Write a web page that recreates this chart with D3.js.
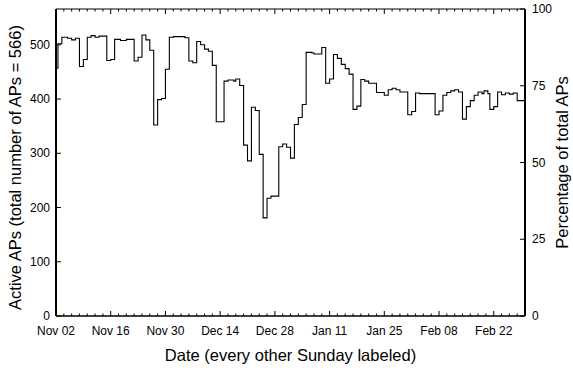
<!DOCTYPE html>
<html><head><meta charset="utf-8">
<script src="https://cdn.jsdelivr.net/npm/d3@7"></script>
<style>body{margin:0;background:#fff}svg{display:block}text{font-family:"Liberation Sans",Arial,Helvetica,sans-serif;fill:#000}</style>
</head><body><svg id="c" width="573" height="368"></svg>
<script>
// Step series: day offset from Nov 02 (start of each step) and number of active APs
const stepDay = [0,0.5,1.5,3,4,5,6,7,8,9,10,11,13,14,15,16.5,18,20,21,22,23,24,25,26,27,28,29,30,33,34,35,36,37,38,39,40,41,43,44,45.5,46,47,48,49,50,51,52,53,54,55,57,58,59,60,61,62,63,64,65.5,66,68,69,70,71,72,73,74,75,76,77,78,79,80,82,84,85,86,87,88,90,91,92,93,97,98,99,100,101,102,103,104,105,106,107,108,109,109.5,110.5,111,112,113,114,115,116,117,118];
const activeAPs = [457,502,514,512,509,512,460,473,514,517,514,516,471,473,510,508,510,470,477,518,509,490,352,399,401,455,514,515,513,470,467,506,500,492,488,462,358,433,435,433,437,425,315,286,385,379,298,181,217,221,312,317,311,291,353,366,390,486,485,483,495,429,437,482,475,464,456,446,381,387,436,433,429,412,407,417,420,417,413,371,377,411,410,371,378,407,412,415,417,413,363,386,397,407,413,410,415,410,381,386,413,408,411,409,411,397];
const endDay = 120;
const totalAPs = 566;
const startDate = new Date(2008, 10, 2);
const leftTicks = [0,100,200,300,400,500];
const rightTicks = [0,25,50,75,100];
const xTitle = "Date (every other Sunday labeled)";
const yTitle = "Active APs (total number of APs = 566)";
const y2Title = "Percentage of total APs";

const svg = d3.select("#c");
const m = {l:56, r:525, t:9, b:316};
const x = d3.scaleTime().domain([startDate, d3.timeDay.offset(startDate, endDay)]).range([m.l, m.r]);
const y = d3.scaleLinear().domain([0, totalAPs]).range([m.b, m.t]);
const y2 = d3.scaleLinear().domain([0, 100]).range([m.b, m.t]);

const dayToDate = d => new Date(startDate.getTime() + d*86400000);
const pts = stepDay.map((d,i)=>({date: dayToDate(d), v: activeAPs[i]}));
pts.push({date: dayToDate(endDay), v: activeAPs[activeAPs.length-1]});

const line = d3.line().x(d=>x(d.date)).y(d=>y(d.v)).curve(d3.curveStepAfter);
svg.append("path").datum(pts).attr("d", line).attr("fill","none").attr("stroke","#000").attr("stroke-width",1.1);

// x ticks
const major = d3.range(0, endDay+1, 14).map(dayToDate);
const minor = d3.range(0, endDay+1, 2).map(dayToDate);
const fmt = d3.timeFormat("%b %d");
const gx = svg.append("g");
minor.forEach(d=>{
  const isMajor = (Math.round((d-startDate)/86400000) % 14) === 0;
  const len = isMajor ? 5 : 2.5;
  gx.append("line").attr("x1",x(d)).attr("x2",x(d)).attr("y1",m.b).attr("y2",m.b-len).attr("stroke","#000").attr("stroke-width",1);
  gx.append("line").attr("x1",x(d)).attr("x2",x(d)).attr("y1",m.t).attr("y2",m.t+len).attr("stroke","#000").attr("stroke-width",1);
});
major.forEach(d=>{
  gx.append("text").attr("x",x(d)).attr("y",335).attr("text-anchor","middle").attr("font-size",12).text(fmt(d));
});
// left ticks
leftTicks.forEach(v=>{
  svg.append("line").attr("x1",m.l).attr("x2",m.l+5).attr("y1",y(v)).attr("y2",y(v)).attr("stroke","#000");
  svg.append("text").attr("x",m.l-6).attr("y",y(v)+4).attr("text-anchor","end").attr("font-size",12).text(v);
});
rightTicks.forEach(v=>{
  svg.append("line").attr("x1",m.r).attr("x2",m.r-5).attr("y1",y2(v)).attr("y2",y2(v)).attr("stroke","#000");
  svg.append("text").attr("x",m.r+7).attr("y",y2(v)+4).attr("text-anchor","start").attr("font-size",12).text(v);
});
// frame
svg.append("line").attr("x1",m.l).attr("x2",m.r).attr("y1",m.t).attr("y2",m.t).attr("stroke","#000").attr("stroke-width",1);
svg.append("line").attr("x1",m.l).attr("x2",m.r).attr("y1",m.b).attr("y2",m.b).attr("stroke","#000").attr("stroke-width",1.5);
svg.append("line").attr("x1",m.l).attr("x2",m.l).attr("y1",m.t).attr("y2",m.b).attr("stroke","#000").attr("stroke-width",2);
svg.append("line").attr("x1",m.r).attr("x2",m.r).attr("y1",m.t).attr("y2",m.b).attr("stroke","#000").attr("stroke-width",2);

svg.append("text").attr("x",(m.l+m.r)/2).attr("y",361).attr("text-anchor","middle").attr("font-size",16.5).text(xTitle);
svg.append("text").attr("transform",`translate(21,${(m.t+m.b)/2+5}) rotate(-90)`).attr("text-anchor","middle").attr("font-size",16.5).text(yTitle);
svg.append("text").attr("transform",`translate(568,${(m.t+m.b)/2}) rotate(-90)`).attr("text-anchor","middle").attr("font-size",16.5).text(y2Title);
</script></body></html>
